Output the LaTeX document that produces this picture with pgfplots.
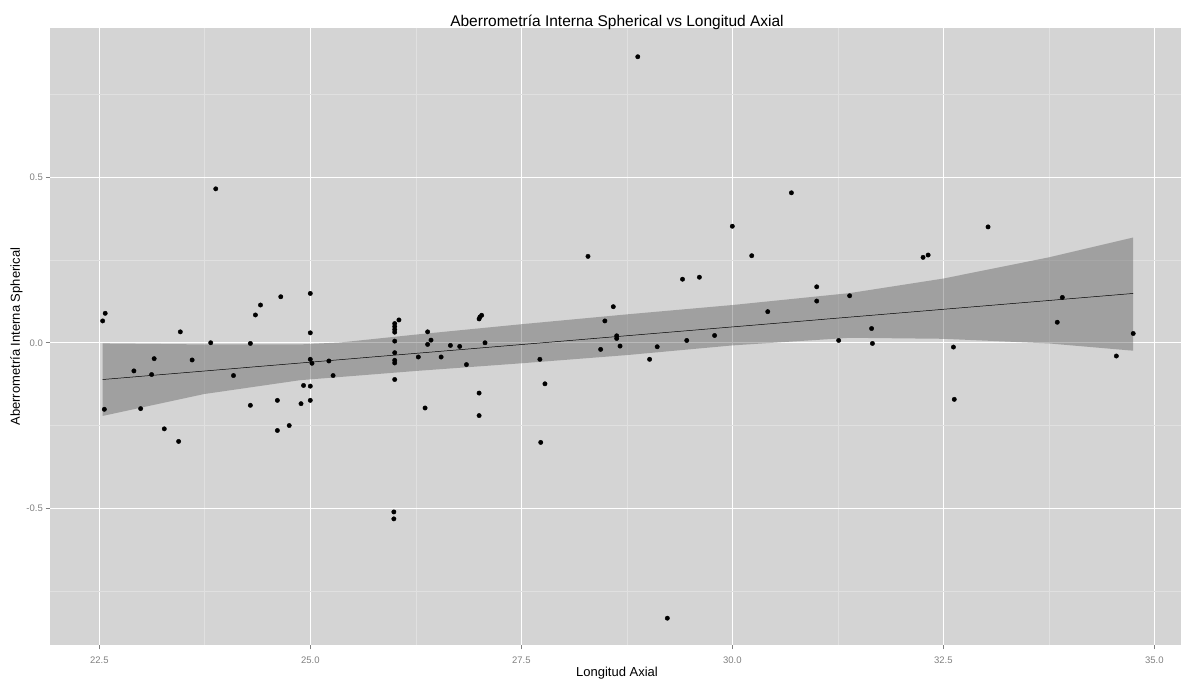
\documentclass[border=0pt]{standalone}
\usepackage{fontspec}
\setmainfont{Liberation Sans}
\usepackage{pgfplots}
\pgfplotsset{compat=1.18}
\definecolor{panel}{RGB}{212,212,212}
\definecolor{minorgrid}{RGB}{224,224,224}
\definecolor{ticklab}{RGB}{128,128,128}
\definecolor{ribbon}{RGB}{83,83,83}
\pgfplotstableread{
x y
22.57 0.089
22.54 0.066
23.46 0.033
23.82 0.000
24.29 -0.002
24.35 0.084
24.41 0.114
24.65 0.139
25.00 0.149
25.00 0.030
25.00 -0.050
25.02 -0.062
25.22 -0.055
25.27 -0.099
23.15 -0.048
22.91 -0.085
23.12 -0.096
23.60 -0.052
24.09 -0.099
22.56 -0.201
22.99 -0.199
23.27 -0.260
23.44 -0.298
24.29 -0.189
24.61 -0.174
24.92 -0.129
25.00 -0.131
25.00 -0.174
24.89 -0.184
24.75 -0.250
24.61 -0.265
23.88 0.465
28.29 0.261
28.59 0.109
28.49 0.066
28.63 0.021
28.63 0.013
28.67 -0.010
28.44 -0.020
27.72 -0.050
27.78 -0.124
27.73 -0.301
26.00 0.058
26.00 0.049
26.00 0.040
26.00 0.032
26.00 0.005
26.00 -0.030
26.00 -0.053
26.00 -0.061
26.00 -0.111
26.05 0.069
26.39 0.033
26.43 0.008
26.39 -0.005
26.28 -0.043
26.55 -0.043
26.66 -0.008
26.77 -0.011
26.85 -0.066
27.00 0.072
27.01 0.078
27.03 0.083
27.07 0.000
26.36 -0.197
27.00 -0.152
27.00 -0.220
29.11 -0.012
29.02 -0.050
29.46 0.007
29.41 0.192
29.61 0.198
29.79 0.022
30.00 0.352
30.23 0.263
30.70 0.453
30.42 0.094
31.00 0.169
31.00 0.126
31.39 0.142
31.26 0.007
31.65 0.043
31.66 -0.002
32.26 0.258
32.32 0.265
33.03 0.350
32.62 -0.013
32.63 -0.171
33.91 0.137
33.85 0.062
34.75 0.028
34.55 -0.040
25.99 -0.511
25.99 -0.532
29.23 -0.832
28.88 0.864
}\points
\begin{document}
\begin{tikzpicture}[x=1pt,y=1pt]
\path[use as bounding box] (0,0) rectangle (1181,682);
\begin{axis}[
  at={(50pt,37pt)}, anchor=south west,
  scale only axis, width=1131pt, height=616.7pt,
  xmin=21.916, xmax=35.316, ymin=-0.913, ymax=0.950,
  axis background/.style={fill=panel},
  axis line style={draw=none},
  xtick={22.5,25,27.5,30,32.5,35},
  xticklabels={22.5,25.0,27.5,30.0,32.5,35.0},
  minor xtick={23.75,26.25,28.75,31.25,33.75},
  ytick={-0.5,0,0.5}, yticklabels={-0.5,0.0,0.5},
  minor ytick={-0.75,-0.25,0.25,0.75},
  grid=both,
  major grid style={white, line width=1pt},
  minor grid style={minorgrid, line width=0.6pt},
  major tick style={ticklab, line width=0.6pt},
  minor tick style={draw=none},
  major tick length=4.5pt, minor tick length=0pt,
  tick align=outside,
  xtick pos=bottom, ytick pos=left,
  tick label style={font=\fontsize{9.5}{11}\selectfont, text=ticklab},
  xticklabel style={inner sep=0pt, anchor=north, yshift=-7pt},
  yticklabel style={inner sep=0pt, anchor=east, xshift=-2.5pt},
  clip=true,
]
\addplot[only marks, mark=*, mark size=2.2pt, mark options={fill=black, draw=none}] table[x=x,y=y] {\points};
\addplot[fill=ribbon, fill opacity=0.4, draw=none] coordinates {
(22.54,-0.002) (23.74,-0.005) (24.88,-0.005) (25.36,0.001) (26.26,0.025) (27.5,0.056) (28.76,0.086) (30.0,0.114) (31.39,0.150) (32.5,0.194) (33.75,0.258) (34.75,0.318)
(34.75,-0.024) (33.75,-0.002) (32.5,0.012) (31.39,0.015) (30.0,-0.008) (28.76,-0.037) (27.5,-0.062) (26.26,-0.085) (24.88,-0.113) (23.74,-0.155) (22.54,-0.221)
} -- cycle;
\addplot[black, line width=0.5pt] coordinates {(22.54,-0.111) (34.75,0.149)};
\end{axis}
\node[anchor=base, font=\fontsize{15.5}{18}\selectfont] at (617,655.3) {Aberrometría Interna Spherical vs Longitud Axial};
\node[anchor=base, font=\fontsize{13}{15}\selectfont] at (617,5) {Longitud Axial};
\node[rotate=90, font=\fontsize{13}{15}\selectfont] at (16.5,345.3) {Aberrometría Interna Spherical};
\end{tikzpicture}
\end{document}
